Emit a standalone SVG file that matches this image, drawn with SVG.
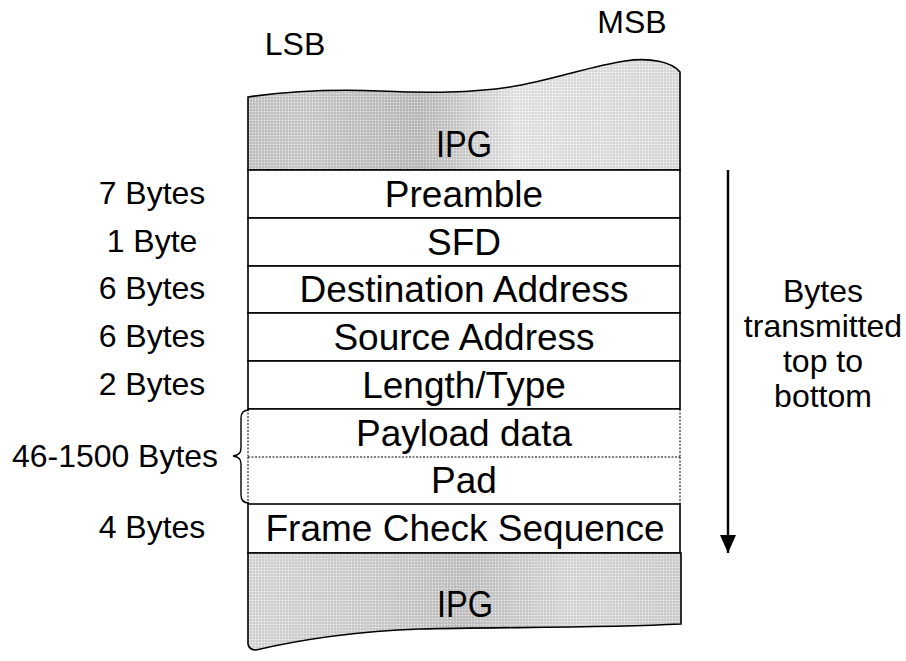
<svg xmlns="http://www.w3.org/2000/svg" width="906" height="661" viewBox="0 0 906 661">
<style>
  .t { font-family: "Liberation Sans", Arial, sans-serif; fill: #000; }
  .main { font-size: 37px; text-anchor: middle; }
  .lbl { font-size: 32px; text-anchor: middle; }
  .row { fill: #fff; stroke: #000; stroke-width: 1.6; }
  .dot { stroke: #000; stroke-width: 1; stroke-dasharray: 2 1.5; fill: none; }
  .edge { stroke: #000; stroke-width: 1.6; fill: none; }
</style>
<defs>
  <linearGradient id="gTop" x1="0" y1="0" x2="1" y2="0">
    <stop offset="0" stop-color="#c6c6c6"/>
    <stop offset="0.12" stop-color="#cdcdcd"/>
    <stop offset="0.4" stop-color="#bdbdbd"/>
    <stop offset="0.62" stop-color="#e8e8e8"/>
    <stop offset="1" stop-color="#dedede"/>
  </linearGradient>
  <linearGradient id="gBot" x1="0" y1="0" x2="1" y2="0">
    <stop offset="0" stop-color="#dadada"/>
    <stop offset="0.3" stop-color="#d0d0d0"/>
    <stop offset="0.5" stop-color="#c4c4c4"/>
    <stop offset="0.75" stop-color="#dcdcdc"/>
    <stop offset="1" stop-color="#d2d2d2"/>
  </linearGradient>
  <pattern id="dots" width="3" height="3" patternUnits="userSpaceOnUse">
    <rect x="0" y="0" width="1" height="1" fill="#fff" opacity="0.7"/>
    <rect x="1.5" y="1.5" width="1" height="1" fill="#888" opacity="0.5"/>
  </pattern>
  <marker id="arr" markerWidth="18" markerHeight="16" refX="18" refY="8" orient="auto" markerUnits="userSpaceOnUse" viewBox="0 0 18 16">
    <path d="M0,0 L18,8 L0,16 Z" fill="#000"/>
  </marker>
</defs>

<g id="lsb"><text class="t lbl" x="295" y="55">LSB</text></g>
<g id="msb"><text class="t lbl" x="632" y="33">MSB</text></g>

<g id="ipg-top">
  <path d="M248,97 C290,91 330,89 380,91 C430,93 470,93 510,87 C550,81 590,66 625,61 C650,57 672,62 680,72 L680,170 L248,170 Z" fill="url(#gTop)"/>
  <path d="M248,97 C290,91 330,89 380,91 C430,93 470,93 510,87 C550,81 590,66 625,61 C650,57 672,62 680,72 L680,170 L248,170 Z" fill="url(#dots)" stroke="#000" stroke-width="1.6"/>
  <text class="t main" x="464" y="157" textLength="56" lengthAdjust="spacingAndGlyphs">IPG</text>
</g>

<g id="preamble">
  <rect class="row" x="248" y="170" width="432" height="48"/>
  <text class="t main" x="464" y="207">Preamble</text>
</g>
<g id="sfd">
  <rect class="row" x="248" y="218" width="432" height="48"/>
  <text class="t main" x="464" y="255">SFD</text>
</g>
<g id="dest">
  <rect class="row" x="248" y="266" width="432" height="47"/>
  <text class="t main" x="464" y="302">Destination Address</text>
</g>
<g id="src">
  <rect class="row" x="248" y="313" width="432" height="48"/>
  <text class="t main" x="464" y="350">Source Address</text>
</g>
<g id="lentype">
  <rect class="row" x="248" y="361" width="432" height="48"/>
  <text class="t main" x="464" y="398">Length/Type</text>
</g>
<g id="payload">
  <rect x="248" y="409" width="432" height="48" fill="#fff"/>
  <line class="dot" x1="248" y1="409" x2="248" y2="457"/>
  <line class="dot" x1="680" y1="409" x2="680" y2="457"/>
  <text class="t main" x="464" y="446">Payload data</text>
</g>
<g id="pad">
  <rect x="248" y="457" width="432" height="47" fill="#fff"/>
  <line class="dot" x1="248" y1="457" x2="248" y2="504"/>
  <line class="dot" x1="680" y1="457" x2="680" y2="504"/>
  <line class="dot" x1="248" y1="457" x2="680" y2="457"/>
  <text class="t main" x="464" y="493">Pad</text>
</g>
<line class="edge" x1="248" y1="409" x2="680" y2="409"/>
<g id="fcs">
  <rect class="row" x="248" y="504" width="432" height="49"/>
  <text class="t main" x="465" y="541">Frame Check Sequence</text>
</g>

<g id="ipg-bottom">
  <path d="M248,553 V644 Q249,650 256,650 C290,642 340,632 420,629 C500,627 600,628 681,624 V553 Z" fill="url(#gBot)"/>
  <path d="M248,553 V644 Q249,650 256,650 C290,642 340,632 420,629 C500,627 600,628 681,624 V553 Z" fill="url(#dots)" stroke="#000" stroke-width="1.6"/>
  <text class="t main" x="465" y="617" textLength="56" lengthAdjust="spacingAndGlyphs">IPG</text>
</g>

<g id="labels">
  <text class="t lbl" x="152" y="204">7 Bytes</text>
  <text class="t lbl" x="152" y="252">1 Byte</text>
  <text class="t lbl" x="152" y="299">6 Bytes</text>
  <text class="t lbl" x="152" y="347">6 Bytes</text>
  <text class="t lbl" x="152" y="395">2 Bytes</text>
  <text class="t lbl" x="115" y="467" textLength="206" lengthAdjust="spacingAndGlyphs">46-1500 Bytes</text>
  <text class="t lbl" x="152" y="538">4 Bytes</text>
</g>

<g id="side-note">
  <text class="t lbl" x="823" y="302">Bytes</text>
  <text class="t lbl" x="823" y="337">transmitted</text>
  <text class="t lbl" x="823" y="372">top to</text>
  <text class="t lbl" x="823" y="407">bottom</text>
</g>

<g id="connectors">
  <path d="M249,410 C243,410 241,413 241,418 L241,448 C241,453 239,455 233,456 C239,457 241,459 241,464 L241,495 C241,500 243,503 249,503" fill="none" stroke="#000" stroke-width="1.4"/>
  <line x1="728" y1="170" x2="728" y2="553" stroke="#000" stroke-width="2.4" marker-end="url(#arr)"/>
</g>
</svg>
